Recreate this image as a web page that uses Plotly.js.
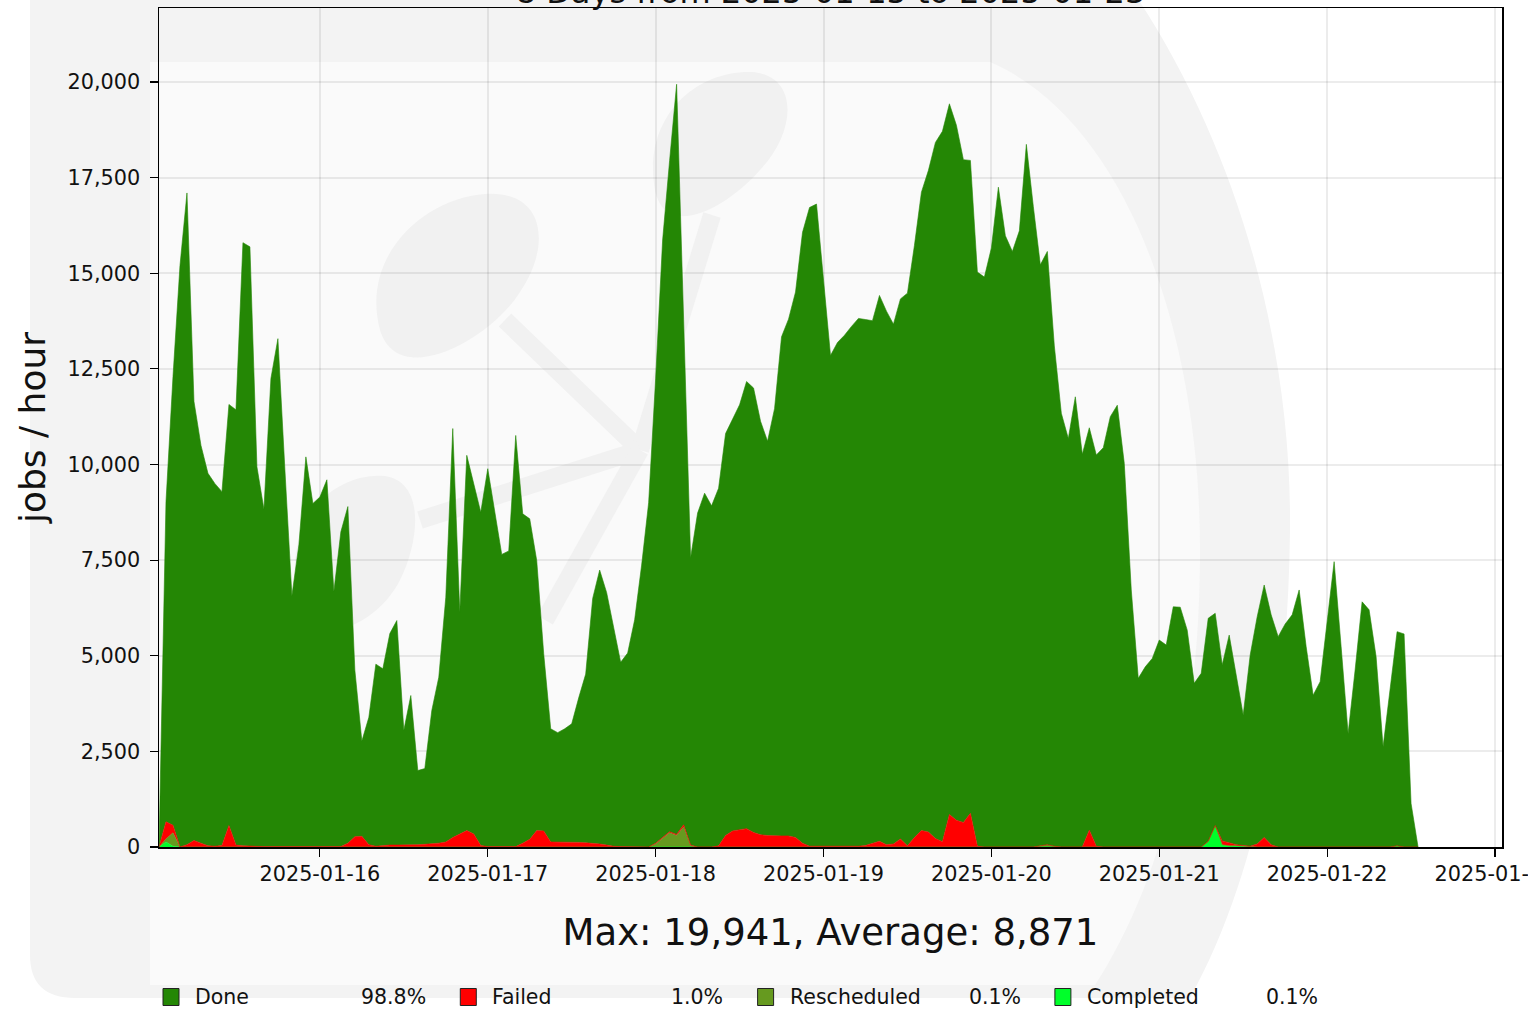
<!DOCTYPE html>
<html>
<head>
<meta charset="utf-8">
<script src="https://cdn.plot.ly/plotly-3.0.1.min.js"></script>
<style>
html,body{margin:0;padding:0;background:#ffffff;}
#chart{width:1528px;height:1013px;}
</style>
</head>
<body>
<div id="chart"></div>
<script>
// ---------------- DATA ----------------
const startHourUTC = [2025, 0, 15, 1];   // first hourly bin: 2025-01-15 01:00
const rangeStart = '2025-01-15 01:00';
const rangeEnd   = '2025-01-23 01:00';

const done = [
  0, 8370, 11730, 15200, 17040, 11480, 10400, 9740, 9480, 9250,
  11010, 11380, 15770, 15670, 9930, 8820, 12240, 13280, 9850, 6560,
  7890, 10190, 8970, 9140, 9590, 6670, 8230, 8800, 4360, 2490,
  3330, 4760, 4620, 5530, 5870, 3000, 3900, 1940, 1980, 3490,
  4340, 6400, 10690, 5800, 9810, 9160, 8710, 9880, 8790, 7640,
  7730, 10750, 8610, 8380, 7060, 4630, 2960, 2860, 2960, 3100,
  3780, 4410, 6400, 7160, 6600, 5720, 4820, 5060, 5940, 7370,
  9000, 12140, 15620, 17550, 19611, 13220, 7510, 8730, 9250, 8920,
  9350, 10510, 10780, 11100, 11690, 11620, 10810, 10310, 11170, 13050,
  13510, 14260, 15970, 16700, 16790, 14820, 12840, 13180, 13370, 13600,
  13800, 13750, 13660, 14270, 13950, 13590, 14120, 14450, 15480, 16690,
  17300, 18200, 18570, 18580, 18170, 17330, 17070, 15010, 14900, 15660,
  17250, 15980, 15570, 16110, 18370, 16740, 15190, 15510, 13080, 11340,
  10680, 11770, 10270, 10520, 10230, 10440, 11250, 11550, 10030, 6720,
  4410, 4710, 4930, 5410, 5280, 6280, 6270, 5670, 4280, 4540,
  5830, 5550, 4600, 5430, 4440, 3410, 5000, 5940, 6600, 6010,
  5500, 5830, 6070, 6720, 5240, 3970, 4320, 5930, 7460, 5240,
  2970, 4630, 6410, 6200, 4980, 2620, 4190, 5600, 5570, 1140,
  0
];

const failed = [
  0, 450, 200, 0, 60, 170, 100, 30, 20, 40,
  560, 50, 30, 20, 10, 10, 10, 10, 10, 10,
  10, 10, 10, 10, 10, 10, 10, 100, 270, 280,
  60, 20, 40, 50, 50, 50, 60, 60, 70, 80,
  100, 130, 250, 340, 430, 340, 40, 10, 10, 10,
  10, 10, 100, 200, 430, 420, 130, 130, 130, 120,
  120, 110, 100, 80, 50, 20, 10, 10, 0, 0,
  0, 20, 20, 30, 30, 60, 20, 0, 0, 0,
  30, 300, 420, 460, 480, 380, 320, 300, 290, 290,
  290, 250, 100, 20, 20, 20, 10, 10, 10, 10,
  20, 40, 100, 150, 60, 80, 210, 30, 250, 430,
  390, 220, 140, 850, 700, 640, 880, 20, 0, 0,
  0, 0, 0, 0, 0, 0, 0, 0, 0, 0,
  0, 0, 0, 440, 20, 0, 0, 0, 0, 0,
  0, 0, 0, 0, 0, 0, 0, 0, 0, 0,
  0, 0, 100, 80, 30, 20, 20, 80, 250, 60,
  0, 0, 0, 0, 0, 0, 0, 0, 0, 0,
  0, 0, 0, 0, 0, 0, 0, 0, 0, 0,
  0
];

const rescheduled = [
  0, 80, 350, 0, 0, 0, 0, 0, 0, 0,
  0, 0, 0, 0, 0, 0, 0, 0, 0, 0,
  0, 0, 0, 0, 0, 0, 0, 0, 0, 0,
  0, 0, 0, 0, 0, 0, 0, 0, 0, 0,
  0, 0, 0, 0, 0, 0, 0, 0, 0, 0,
  0, 0, 0, 0, 0, 0, 0, 0, 0, 0,
  0, 0, 0, 0, 0, 0, 0, 0, 0, 0,
  0, 80, 230, 370, 300, 520, 30, 0, 0, 0,
  0, 0, 0, 0, 0, 0, 0, 0, 0, 0,
  0, 0, 0, 0, 0, 0, 0, 0, 0, 0,
  0, 0, 0, 0, 0, 0, 0, 0, 0, 0,
  0, 0, 0, 0, 0, 0, 0, 0, 0, 0,
  0, 0, 0, 0, 0, 0, 30, 60, 20, 0,
  0, 0, 0, 0, 0, 0, 0, 0, 0, 0,
  0, 0, 0, 0, 0, 0, 0, 0, 0, 0,
  0, 0, 0, 0, 0, 0, 0, 0, 0, 0,
  0, 0, 0, 0, 0, 0, 0, 0, 0, 0,
  0, 0, 0, 0, 0, 0, 0, 0, 0, 0,
  0
];

const completed = [
  0, 130, 20, 0, 0, 0, 0, 0, 0, 0,
  0, 0, 0, 0, 0, 0, 0, 0, 0, 0,
  0, 0, 0, 0, 0, 0, 0, 0, 0, 0,
  0, 0, 0, 0, 0, 0, 0, 0, 0, 0,
  0, 0, 0, 0, 0, 0, 0, 0, 0, 0,
  0, 0, 0, 0, 0, 0, 0, 0, 0, 0,
  0, 0, 0, 0, 0, 0, 0, 0, 0, 0,
  0, 0, 0, 0, 0, 0, 0, 0, 0, 0,
  0, 0, 0, 0, 0, 0, 0, 0, 0, 0,
  0, 0, 0, 0, 0, 0, 0, 0, 0, 0,
  0, 0, 0, 0, 0, 0, 0, 0, 0, 0,
  0, 0, 0, 0, 0, 0, 0, 0, 0, 0,
  0, 0, 0, 0, 0, 0, 0, 0, 0, 0,
  0, 0, 0, 0, 0, 0, 0, 0, 0, 0,
  0, 0, 0, 0, 0, 0, 0, 0, 0, 0,
  150, 560, 60, 30, 30, 20, 0, 0, 0, 0,
  0, 0, 0, 0, 0, 0, 0, 0, 0, 0,
  0, 0, 0, 0, 0, 0, 0, 30, 0, 0,
  0
];

const seriesNames  = ['Done', 'Failed', 'Rescheduled', 'Completed'];
const seriesPct    = ['98.8%', '1.0%', '0.1%', '0.1%'];
const seriesColors = ['#248705', '#ff0000', '#669a1f', '#00ff2a'];

const yTickVals = [0, 2500, 5000, 7500, 10000, 12500, 15000, 17500, 20000];
const yMax = 21935;
const xTickVals = ['2025-01-16', '2025-01-17', '2025-01-18', '2025-01-19',
                   '2025-01-20', '2025-01-21', '2025-01-22', '2025-01-23'];

const titleText = '8 Days from 2025-01-15 to 2025-01-23';
const summaryText = 'Max: 19,941, Average: 8,871';
const yTitle = 'jobs / hour';

// hourly time stamps for the bins
const t0 = Date.UTC(startHourUTC[0], startHourUTC[1], startHourUTC[2], startHourUTC[3]);
const times = done.map((_, i) => new Date(t0 + i * 3600000).toISOString().slice(0, 16).replace('T', ' '));

// ---------------- GEOMETRY HELPERS ----------------
const FONT = 'DejaVu Sans, Liberation Sans, sans-serif';
const L = 159, R = 1502, T = 8, B = 847, W = 1528, H = 1013;
const px = x => (x - L) / (R - L);
const py = y => (B - y) / (B - T);
function path(segs) {
  return segs.map(s => s[0] + ' ' + s.slice(1).map(p => px(p[0]).toFixed(5) + ',' + py(p[1]).toFixed(5)).join(' ')).join(' ') + ' Z';
}

// ---------------- TRACES ----------------
const stackOrder = [3, 2, 1, 0]; // Completed, Rescheduled, Failed at bottom, Done on top
const seriesData = [done, failed, rescheduled, completed];
const traces = stackOrder.map(k => ({
  type: 'scatter',
  mode: 'lines',
  x: times,
  y: seriesData[k],
  name: seriesNames[k],
  stackgroup: 'jobs',
  line: {width: 0.6, color: seriesColors[k], shape: 'linear'},
  fillcolor: seriesColors[k],
  hoverinfo: 'x+y+name',
  showlegend: false
}));

// ---------------- BACKGROUND WATERMARK ----------------
const shapes = [];
shapes.push({type: 'path', xref: 'paper', yref: 'paper', layer: 'below',
  path: path([['M', [30, -10]], ['L', [1132, -10]], ['C', [1240, 150], [1292, 350], [1290, 530]],
              ['C', [1288, 720], [1255, 880], [1190, 998]], ['L', [75, 998]], ['Q', [30, 998], [30, 955]]]),
  fillcolor: '#f3f3f3', line: {width: 0}});
shapes.push({type: 'path', xref: 'paper', yref: 'paper', layer: 'below',
  path: path([['M', [150, 62]], ['L', [990, 62]], ['C', [1125, 120], [1200, 330], [1200, 550]],
              ['C', [1200, 760], [1150, 900], [1095, 985]], ['L', [150, 985]]]),
  fillcolor: '#fafafa', line: {width: 0}});
const logoCol = '#f1f1f1';
[[[640, 450], [505, 320]], [[640, 450], [712, 215]], [[640, 450], [420, 520]], [[640, 450], [545, 620]]].forEach(seg => {
  shapes.push({type: 'line', xref: 'paper', yref: 'paper', layer: 'below',
    x0: px(seg[0][0]), y0: py(seg[0][1]), x1: px(seg[1][0]), y1: py(seg[1][1]),
    line: {color: logoCol, width: 18}});
});
shapes.push({type: 'path', xref: 'paper', yref: 'paper', layer: 'below',
  path: path([['M', [380, 330]], ['C', [360, 255], [425, 198], [485, 194]], ['C', [545, 190], [552, 245], [520, 292]], ['C', [490, 340], [398, 390], [380, 330]]]),
  fillcolor: logoCol, line: {width: 0}});
shapes.push({type: 'path', xref: 'paper', yref: 'paper', layer: 'below',
  path: path([['M', [655, 190]], ['C', [642, 118], [695, 70], [752, 72]], ['C', [800, 76], [796, 132], [760, 170]], ['C', [725, 210], [665, 240], [655, 190]]]),
  fillcolor: logoCol, line: {width: 0}});
shapes.push({type: 'path', xref: 'paper', yref: 'paper', layer: 'below',
  path: path([['M', [295, 580]], ['C', [290, 505], [345, 472], [385, 476]], ['C', [425, 482], [420, 540], [400, 580]], ['C', [375, 630], [300, 660], [295, 580]]]),
  fillcolor: logoCol, line: {width: 0}});

// ---------------- LEGEND (drawn) ----------------
const annotations = [];
const legStep = 297.3, legX0 = 163, legY = 997;
seriesNames.forEach((nm, k) => {
  const x0 = legX0 + k * legStep;
  shapes.push({type: 'rect', xref: 'paper', yref: 'paper', layer: 'above',
    x0: px(x0), x1: px(x0 + 16), y0: py(legY + 8.5), y1: py(legY - 8.5),
    fillcolor: seriesColors[k], line: {color: '#222', width: 1}});
  annotations.push({xref: 'paper', yref: 'paper', x: px(x0 + 30), y: py(legY), xanchor: 'left', yanchor: 'middle',
    text: nm, showarrow: false, font: {family: FONT, size: 20.5, color: '#111'}});
  annotations.push({xref: 'paper', yref: 'paper', x: px(x0 + 265), y: py(legY), xanchor: 'right', yanchor: 'middle',
    text: seriesPct[k], showarrow: false, font: {family: FONT, size: 20.5, color: '#111'}});
});

// ---------------- LAYOUT ----------------
const layout = {
  width: W, height: H,
  margin: {l: L, r: W - R, t: T, b: H - B, pad: 0},
  paper_bgcolor: '#ffffff',
  plot_bgcolor: 'rgba(0,0,0,0)',
  showlegend: false,
  font: {family: FONT, color: '#111'},
  title: {text: titleText, font: {family: FONT, size: 32, color: '#111'},
          x: 0.5, xref: 'paper', xanchor: 'center', y: 1, yref: 'paper', yanchor: 'bottom', pad: {b: 5}},
  xaxis: {
    type: 'date', range: [rangeStart, rangeEnd],
    tickmode: 'array', tickvals: xTickVals, ticktext: xTickVals,
    ticks: 'outside', ticklen: 8, tickwidth: 1.2, tickcolor: '#000',
    tickfont: {family: FONT, size: 20.8, color: '#111'},
    ticklabeloverflow: 'allow',
    showline: true, mirror: true, linecolor: '#000', linewidth: 1.5,
    showgrid: true, gridcolor: 'rgba(0,0,0,0.075)', gridwidth: 2,
    zeroline: false, layer: 'above traces',
    title: {text: summaryText, font: {family: FONT, size: 37, color: '#111'}, standoff: 33}
  },
  yaxis: {
    range: [0, yMax],
    tickmode: 'array', tickvals: yTickVals, tickformat: ',d',
    ticks: 'outside', ticklen: 8, tickwidth: 1.2, tickcolor: '#000',
    tickfont: {family: FONT, size: 20.8, color: '#111'},
    ticklabelstandoff: 5,
    showline: true, mirror: true, linecolor: '#000', linewidth: 1.5,
    showgrid: true, gridcolor: 'rgba(0,0,0,0.075)', gridwidth: 2,
    zeroline: false, layer: 'above traces',
    title: {text: yTitle, font: {family: FONT, size: 36, color: '#111'}, standoff: 11}
  },
  shapes: shapes,
  annotations: annotations
};

Plotly.newPlot('chart', traces, layout, {staticPlot: true, displayModeBar: false});
</script>
</body>
</html>
